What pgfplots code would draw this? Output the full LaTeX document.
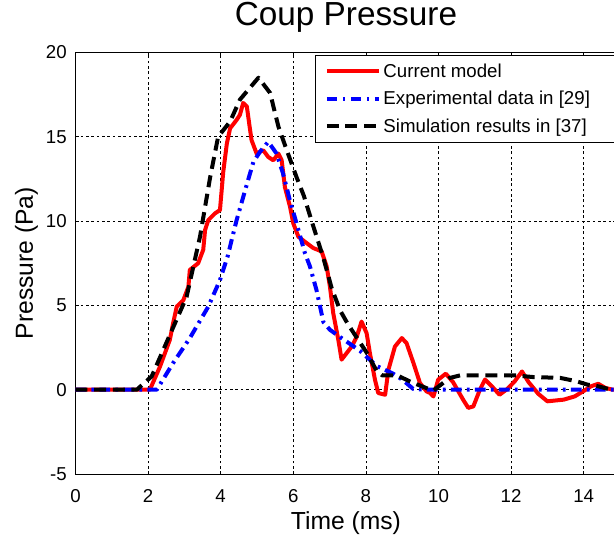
\documentclass[border=0pt]{standalone}
\usepackage{fontspec}
\setmainfont{Liberation Sans}
\usepackage{pgfplots}
\pgfplotsset{compat=1.18}
\begin{document}
\begin{tikzpicture}
\begin{axis}[
 scale only axis, width=405.7pt, height=316.2pt,
 xmin=0, xmax=14.9, ymin=-5, ymax=20,
 xtick={0,2,...,14}, ytick={-5,0,5,10,15,20},
 scaled y ticks=false,
 /pgf/number format/assume math mode=true,
 tick label style={font=\fontsize{14}{16}\selectfont, inner sep=0pt},
 xticklabel style={anchor=base, yshift=-21pt},
 yticklabel style={anchor=east, xshift=-6.4pt},
 tick align=inside, major tick length=2.5pt,
 tick style={black, line width=0.6pt},
 axis line style={line width=0.75pt},
 grid=major, major grid style={black, line width=0.6pt, dash pattern=on 2pt off 2pt},
 title={Coup Pressure},
 title style={font=\fontsize{25}{30}\selectfont, at={(axis description cs:0.5,1)}, anchor=base, yshift=14.5pt},
 xlabel={Time (ms)}, ylabel={Pressure (Pa)},
 xlabel style={font=\fontsize{18.5}{22}\selectfont, at={(axis description cs:0.5,-0.1328)}, anchor=base},
 ylabel style={font=\fontsize{18.5}{22}\selectfont, at={(axis description cs:-0.0786,0.5)}, anchor=base},
 legend style={at={(axis description cs:0.4428,0.9938)}, anchor=north west, draw=black, line width=0.75pt, fill=white,
   font=\fontsize{14}{16}\selectfont, inner xsep=7pt, inner ysep=4pt, row sep=5pt,
   /tikz/every even column/.append style={column sep=6pt}},
 legend cell align=left,
 legend image code/.code={\draw[#1] (0pt,0pt) -- (39pt,0pt);},
 every axis plot/.append style={line join=round},
]
\addplot[red, line width=3pt] coordinates {
(0,0) (1.0,0) (2.05,0) (2.33,1.38) (2.6,2.96) (2.69,3.94) (2.79,4.93) (2.97,5.3) (3.11,6.1) (3.15,7.1) (3.38,7.5) (3.52,8.3) (3.57,9.47) (3.66,10.06) (3.84,10.45) (3.98,10.65) (4.07,12.9) (4.17,14.6) (4.26,15.5) (4.44,16.0) (4.53,16.3) (4.62,17.0) (4.72,16.8) (4.81,15.4) (4.85,14.8) (4.99,14.0) (5.17,14.2) (5.31,13.8) (5.45,13.6) (5.59,14.0) (5.68,13.6) (5.77,12.0) (5.91,10.85) (6.0,9.86) (6.14,9.07) (6.32,8.77) (6.55,8.4) (6.78,8.2) (6.92,7.3) (7.01,6.1) (7.10,4.54) (7.24,2.96) (7.33,1.78) (7.47,2.17) (7.61,2.56) (7.75,3.15) (7.88,4.04) (8.02,3.35) (8.11,2.17) (8.25,0.59) (8.34,-0.2) (8.53,-0.3) (8.62,1.18) (8.8,2.56) (8.99,3.06) (9.12,2.76) (9.31,1.58) (9.49,0.39) (9.67,-0.1) (9.77,-0.2) (9.86,-0.4) (9.99,0.59) (10.2,0.95) (10.4,0.45) (10.68,-0.6) (10.82,-1.08) (10.96,-0.99) (11.14,0) (11.28,0.6) (11.47,0.2) (11.68,-0.3) (11.9,0.05) (12.1,0.5) (12.3,1.08) (12.48,0.45) (12.75,-0.25) (13.0,-0.69) (13.45,-0.59) (13.75,-0.4) (14.02,-0.05) (14.2,0.2) (14.4,0.35) (14.6,0.1) (14.8,0) (14.9,0)
};
\addlegendentry{Current model}
\addplot[blue, line width=3pt, dash pattern=on 8pt off 4pt on 2pt off 4pt] coordinates {
(0,0) (2.24,0) (2.69,1.58) (3.15,3.06) (3.66,4.93) (3.98,6.5) (4.19,7.9) (4.44,10.06) (4.67,11.8) (4.9,13.5) (5.08,14.1) (5.31,14.7) (5.54,14.0) (5.72,12.8) (5.91,11.2) (6.09,9.86) (6.32,8.1) (6.46,7.3) (6.64,5.9) (6.83,4.0) (7.01,3.55) (7.33,3.06) (7.84,2.3) (8.3,1.4) (8.75,0.95) (9.0,0.6) (9.3,0.05) (9.6,0) (14.9,0)
};
\addlegendentry{Experimental data in [29]}
\addplot[black, line width=3pt, dash pattern=on 9pt off 5pt] coordinates {
(0,0) (1.69,0) (2.10,0.79) (2.60,3.25) (3.06,5.5) (3.43,9.07) (3.71,12.6) (3.93,15.0) (4.26,15.9) (4.53,17.2) (5.04,18.5) (5.36,17.6) (5.59,15.6) (5.82,14.2) (6.09,12.6) (6.29,11.5) (6.55,9.7) (6.83,7.8) (7.06,6.0) (7.29,4.7) (7.5,3.9) (8.02,2.2) (8.3,1.1) (8.45,0.85) (8.86,0.85) (9.25,0.45) (9.72,0.05) (9.86,-0.05) (10.3,0.69) (10.6,0.85) (12.1,0.85) (12.6,0.75) (13.35,0.7) (13.8,0.5) (14.1,0.3) (14.4,0.2) (14.75,0) (14.9,0)
};
\addlegendentry{Simulation results in [37]\hspace*{30pt}}
\node[anchor=base west, font=\fontsize{14}{16}\selectfont, inner sep=0pt] at (axis description cs:0,1) [yshift=7pt] {x 10\textsuperscript{4}};
\end{axis}
\pgfresetboundingbox
\path[use as bounding box] (-56.6pt,-47.25pt) rectangle (403.9pt,355.5pt);
\end{tikzpicture}
\end{document}
